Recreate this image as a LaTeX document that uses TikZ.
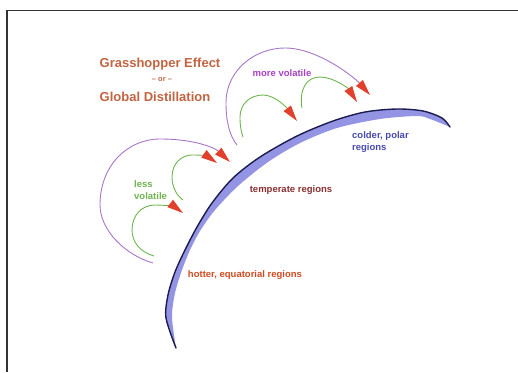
\documentclass[tikz,border=0pt]{standalone}
\usepackage{fontspec}
\setmainfont{Liberation Sans}
\usetikzlibrary{arrows.meta}

\definecolor{titlebrown}{RGB}{192,100,66}
\definecolor{hopgreen}{RGB}{112,180,80}
\definecolor{hoppurple}{RGB}{168,118,200}
\definecolor{volpurple}{RGB}{170,64,200}
\definecolor{tipred}{RGB}{224,64,44}
\definecolor{earthfill}{RGB}{148,148,228}
\definecolor{earthedge}{RGB}{28,28,80}
\definecolor{coldblue}{RGB}{72,72,176}
\definecolor{tempred}{RGB}{138,48,48}
\definecolor{hotred}{RGB}{208,74,32}

\begin{document}
\begin{tikzpicture}[
    x=1pt,y=-1pt,
    heading/.style={font=\fontsize{13}{15}\selectfont\bfseries,text=titlebrown,inner sep=0pt},
    region/.style 2 args={font=\fontsize{9.5}{12}\selectfont\bfseries,text=#1,inner sep=0pt,align=left,anchor=#2},
    hop/.style={
    #1,
    line width=0.9pt,
    -{Triangle[length=16pt,width=9pt,fill=tipred,color=tipred]}
    }
]
\useasboundingbox (0,0) rectangle (518,372);

%Draw the frame
\draw[black!80,line width=1.3pt] (518,10.5) -- (7,10.5) -- (7,372);

%Draw the globe
\fill[earthfill] plot[smooth] coordinates {(176,348) (166,318) (168,295) (175,272) (185,250)
  (197,227) (212,203) (233,178) (260,157) (297,136) (333,121) (365,112) (397,109) (423,111)
  (442,118) (450,127)}
  -- plot[smooth] coordinates {(450,127) (430,119) (417,116) (380,119) (337,128) (300,143)
  (268,162) (238,186) (215,210) (200,231) (190,250) (182,270) (175,293) (172,317) (176,348)}
  -- cycle;
\draw[earthedge,line width=1.4pt,line cap=round] plot[smooth] coordinates {(176,348) (166,318)
  (168,295) (175,272) (185,250) (197,227) (212,203) (233,178) (260,157) (297,136) (333,121)
  (365,112) (397,109) (423,111) (442,118) (450,127)};

%Draw the texts
\node[heading] (title) at (160,64) {Grasshopper Effect};
\node[font=\fontsize{7.5}{9}\selectfont\bfseries,text=titlebrown,inner sep=0pt] (ortext) at (162,80) {– or –};
\node[heading] (distill) at (155,97) {Global Distillation};
\node[region={volpurple}{center}] (morevol) at (282,73) {more volatile};
\node[region={hopgreen}{west}] (lessvol) at (134,190) {less\\volatile};
\node[region={coldblue}{west}] (colder) at (352,142) {colder, polar\\regions};
\node[region={tempred}{center}] (temperate) at (291,190) {temperate regions};
\node[region={hotred}{center}] (hotter) at (245,275) {hotter, equatorial regions};

%Draw the hops
\coordinate (p1s) at (153,263);
\coordinate (p1e) at (230,162);
\coordinate (g1s) at (154,256);
\coordinate (g1e) at (183,213);
\coordinate (g2s) at (183,200);
\coordinate (g2e) at (217,163);
\coordinate (p2s) at (237,145);
\coordinate (p2e) at (370,95);
\coordinate (g3s) at (243,137);
\coordinate (g3e) at (297,121);
\coordinate (g4s) at (302,108);
\coordinate (g4e) at (357,102);

\draw[hop=hoppurple] (p1s) .. controls (125,255) and (100,230) .. (100,205)
  .. controls (100,165) and (128,139) .. (160,139)
  .. controls (195,139) and (215,148) .. (p1e);
\draw[hop=hopgreen] (g1s) .. controls (140,252) and (132,242) .. (132,230)
  .. controls (132,215) and (142,205) .. (155,205)
  .. controls (165,205) and (175,207) .. (g1e);
\draw[hop=hopgreen] (g2s) .. controls (176,195) and (172,186) .. (172,177)
  .. controls (172,163) and (182,155) .. (192,155)
  .. controls (202,155) and (207,156) .. (g2e);
\draw[hop=hoppurple] (p2s) .. controls (229,135) and (226,120) .. (226,103)
  .. controls (226,70) and (255,48) .. (285,48)
  .. controls (318,48) and (355,78) .. (p2e);
\draw[hop=hopgreen] (g3s) .. controls (241,132) and (240,125) .. (240,117)
  .. controls (240,104) and (250,95) .. (263,95)
  .. controls (275,95) and (287,108) .. (g3e);
\draw[hop=hopgreen] (g4s) .. controls (299,90) and (306,77) .. (320,77)
  .. controls (333,77) and (348,88) .. (g4e);

\end{tikzpicture}
\end{document}
